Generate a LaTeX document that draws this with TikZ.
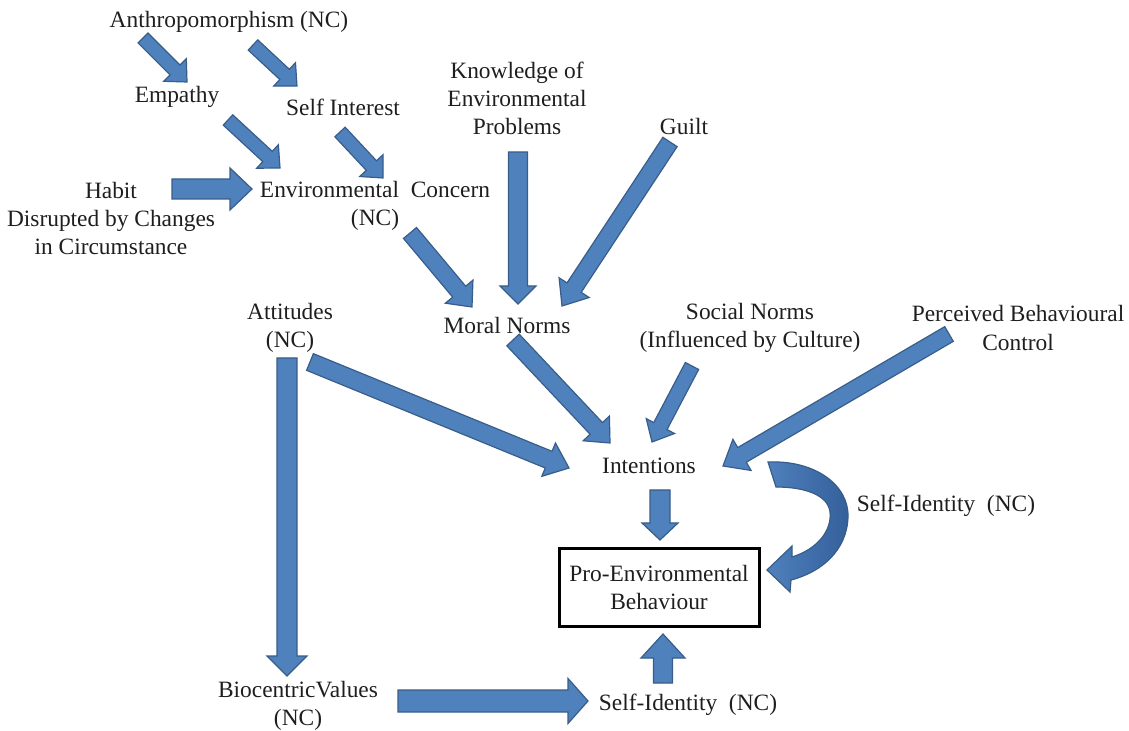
\documentclass[tikz,border=0pt]{standalone}
\usepackage{fontspec}
\setmainfont{Liberation Serif}
\usepackage{tikz}
\usetikzlibrary{calc}

\definecolor{arrowfill}{RGB}{79,129,189}
\definecolor{arrowline}{RGB}{56,93,138}
\definecolor{arrowdark}{RGB}{52,95,155}
\definecolor{txt}{RGB}{30,30,30}

% block arrow: from, to, shaft half width, head half width, head length
\newcommand{\barrow}[5]{%
  \draw[blockarrow] let \p1=($(#2)-(#1)$), \n1={atan2(\y1,\x1)} in
    ($(#1)+(\n1+90:#3)$) -- ($(#2)+(\n1:-#5)+(\n1+90:#3)$)
    -- ($(#2)+(\n1:-#5)+(\n1+90:#4)$) -- (#2)
    -- ($(#2)+(\n1:-#5)+(\n1-90:#4)$) -- ($(#2)+(\n1:-#5)+(\n1-90:#3)$)
    -- ($(#1)+(\n1-90:#3)$) -- cycle;}

\begin{document}
\begin{tikzpicture}[line join=miter,x=0.5pt,y=-0.5pt,
  blockarrow/.style={fill=arrowfill,draw=arrowline,line width=0.6pt},
  lbl/.style={align=center,inner sep=0pt,text=txt,font=\fontsize{11.7}{14}\selectfont},
  pebbox/.style={lbl,draw=black,line width=1.5pt,minimum width=100pt,minimum height=39pt}]
	\useasboundingbox (0,0) rectangle (1129,731);

	\node[lbl] (anth) at (229,22) {Anthropomorphism (NC)};
	\node[lbl] (emp) at (177,97) {Empathy};
	\node[lbl] (selfint) at (343,107) {Self Interest};
	\node[lbl] (habit) at (111,219) {Habit\\Disrupted by Changes\\in Circumstance};
	\node[lbl] (envc) at (375,206) {Environmental~~Concern\\(NC)};
	\node[lbl] (know) at (517,98) {Knowledge of\\Environmental\\Problems};
	\node[lbl] (guilt) at (684,127) {Guilt};
	\node[lbl] (moral) at (507,325) {Moral Norms};
	\node[lbl] (att) at (290,328) {Attitudes\\(NC)};
	\node[lbl] (social) at (750,328) {Social Norms\\(Influenced by Culture)};
	\node[lbl] (pbc) at (1018,328) {Perceived Behavioural\\Control};
	\node[lbl] (intent) at (649,466) {Intentions};
	\node[lbl] (sidright) at (946,506) {Self-Identity~~(NC)};
	\node[pebbox] (peb) at (659,587) {Pro-Environmental\\Behaviour};
	\node[lbl] (bio) at (298,706) {BiocentricValues\\(NC)};
	\node[lbl] (sidlow) at (688,705) {Self-Identity~~(NC)};

	% arrow ends
	\coordinate (a1) at (143,38);  \coordinate (b1) at (187,82);
	\coordinate (a2) at (253,45);  \coordinate (b2) at (297,86);
	\coordinate (a3) at (228,120); \coordinate (b3) at (280,168);
	\coordinate (a4) at (340,132); \coordinate (b4) at (383,178);
	\coordinate (a5) at (172,189); \coordinate (b5) at (252,189);
	\coordinate (a6) at (410,233); \coordinate (b6) at (472,307);
	\coordinate (a7) at (518,152); \coordinate (b7) at (518,304);
	\coordinate (a8) at (670,142); \coordinate (b8) at (562,306);
	\coordinate (a9) at (513,340); \coordinate (b9) at (610,443);
	\coordinate (a10) at (310,362); \coordinate (b10) at (569,468);
	\coordinate (a11) at (692,366); \coordinate (b11) at (652,442);
	\coordinate (a12) at (949,334); \coordinate (b12) at (723,466);
	\coordinate (a13) at (660,490); \coordinate (b13) at (660,540);
	\coordinate (a14) at (287,358); \coordinate (b14) at (287,676);
	\coordinate (a15) at (398,701); \coordinate (b15) at (588,701);
	\coordinate (a16) at (663,683); \coordinate (b16) at (663,634);

	\barrow{a1}{b1}{3.5pt}{8pt}{8.5pt}
	\barrow{a2}{b2}{3.5pt}{8pt}{8.5pt}
	\barrow{a3}{b3}{3.5pt}{8pt}{8.5pt}
	\barrow{a4}{b4}{3.5pt}{8pt}{8.5pt}
	\barrow{a5}{b5}{5pt}{10.5pt}{11pt}
	\barrow{a6}{b6}{4.25pt}{9pt}{10pt}
	\barrow{a7}{b7}{4.75pt}{9pt}{9pt}
	\barrow{a8}{b8}{4.25pt}{9pt}{11pt}
	\barrow{a9}{b9}{4.25pt}{9pt}{10pt}
	\barrow{a10}{b10}{4.5pt}{9pt}{11pt}
	\barrow{a11}{b11}{3.75pt}{8pt}{9pt}
	\barrow{a12}{b12}{4.25pt}{9pt}{11pt}
	\barrow{a13}{b13}{5pt}{9pt}{8.5pt}
	\barrow{a14}{b14}{5pt}{10pt}{10pt}
	\barrow{a15}{b15}{5.5pt}{11.25pt}{10pt}
	\barrow{a16}{b16}{4.75pt}{11pt}{12pt}

	% curved arrow, intentions to behaviour
	\path[left color=arrowfill,right color=arrowdark,draw=arrowline,line width=0.6pt]
	  (768,462) .. controls (815,460) and (849,485) .. (848,517)
	  .. controls (847,550) and (822,572) .. (791,580) -- (790,592) -- (767,570)
	  -- (792,546) -- (792,557)
	  .. controls (818,549) and (832,530) .. (830,512)
	  .. controls (828,495) and (805,487) .. (776,487) -- cycle;
\end{tikzpicture}
\end{document}
